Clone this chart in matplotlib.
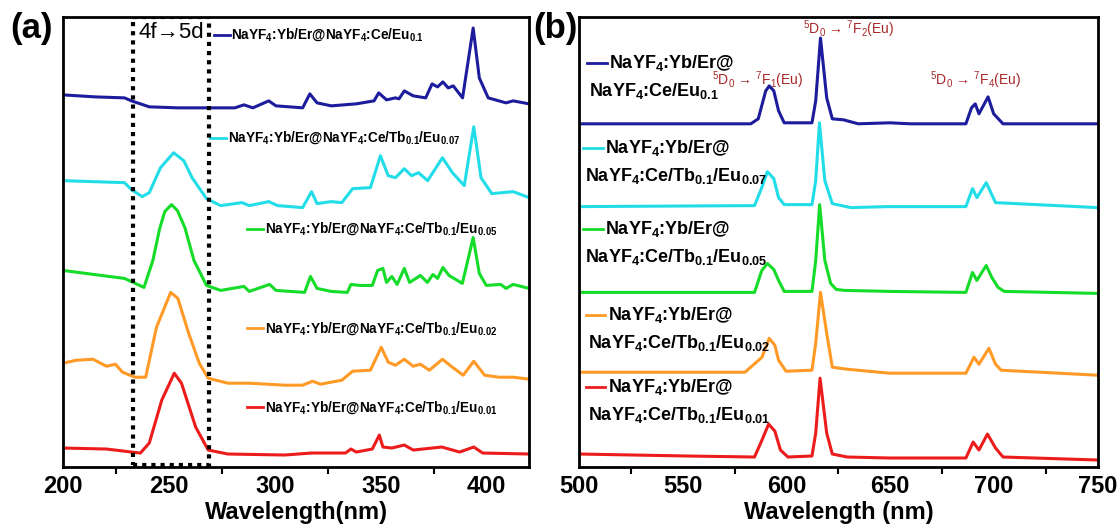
import numpy as np
import matplotlib
matplotlib.use('Agg')
import matplotlib.pyplot as plt
from matplotlib.patches import Rectangle

plt.rcParams['font.family'] = ['Liberation Sans', 'DejaVu Sans']
plt.rcParams['mathtext.fontset'] = 'custom'
plt.rcParams['mathtext.rm'] = 'Liberation Sans'
plt.rcParams['mathtext.bf'] = 'Liberation Sans:bold'
plt.rcParams['mathtext.default'] = 'regular'

colors = ['#1c1c9c', '#22dde8', '#14dc28', '#ff9a26', '#ec1c1c']

# ---- panel (a): excitation spectra, intensity in plot units (offset included)
wl_a_blue = [200, 215, 229, 232.3, 240.7, 254.2, 281.1, 285.4, 289.6, 297.1, 300.5, 313.1, 316.5, 319.9,
             326.6, 338.4, 346.8, 349, 352.7, 356.9, 358.6, 361.1, 365.3, 371.2, 374.2, 376.8, 379.3,
             381.8, 384.2, 388.6, 393.6, 396.5, 400.7, 409.1, 412.5, 420]
I_a_blue = [373, 371, 370, 367, 361, 360, 360, 363, 360, 367, 362, 360, 374, 365,
            362, 364, 367, 375, 368, 370, 369, 377, 372, 370, 384, 381, 386,
            380, 382, 370, 440, 390, 370, 365, 367, 364]

wl_a_cyan = [200, 229, 232.3, 237.4, 240.7, 246, 252.2, 257, 260.9, 267.7, 274.4, 284.5, 287.9, 297.1,
             301.3, 313.1, 317.3, 319.9, 326.6, 331.6, 336.7, 345.1, 349.8, 353.5, 356.9, 361.1,
             364.5, 367.8, 372.1, 379.1, 383.8, 389.4, 393.9, 397.3, 402.4, 407.4, 412.5, 420]
I_a_cyan = [287, 285, 278, 271, 275, 300, 315, 307, 290, 269, 262, 265, 262, 266,
            262, 260, 276, 264, 266, 265, 279, 280, 312, 292, 290, 299,
            292, 295, 287, 310, 295, 282, 341, 290, 274, 275, 276, 270]

wl_a_green = [200, 229, 238.2, 242.4, 245.5, 248, 251.2, 254, 257.5, 261.8, 267.7, 274.4, 285.4, 287.9,
              297.5, 300.5, 314, 316.8, 319.9, 326.6, 334.2, 335.9, 340, 346, 348.5, 351, 352.7,
              355.2, 357.7, 361.1, 363.6, 368.7, 372, 374.6, 376.8, 379.3, 382.2, 388.5, 393.6,
              396.5, 399.8, 406.6, 409.1, 412.5, 420]
I_a_green = [197, 189, 180, 207, 238, 256, 263, 257, 240, 207, 182, 177, 181, 176,
             183, 177, 175, 191, 179, 176, 175, 183, 182, 182, 197, 199, 185,
             191, 183, 199, 185, 192, 185, 193, 189, 200, 192, 184, 230,
             194, 182, 183, 179, 183, 179]

wl_a_orange = [200, 206.2, 214.1, 220.5, 224.7, 228.1, 234, 239, 244.1, 250.8, 254.2, 259.3, 264.3,
               268.5, 277.8, 287.9, 304.7, 313.1, 317.8, 321.5, 331.6, 336.7, 345.1, 350.2, 353.5,
               356.9, 361.1, 365.3, 368.7, 372.9, 379.1, 383.8, 388.9, 393.9, 399, 405.7, 412.5, 420]
I_a_orange = [104, 107, 108, 101, 103, 95, 90, 90, 140, 175, 169, 134, 104,
              89, 84, 84, 82, 82, 86, 83, 87, 96, 97, 120, 105,
              102, 108, 101, 103, 97, 108, 100, 92, 106, 92, 90, 90, 88]

wl_a_red = [200, 220.5, 232.3, 236.5, 240.7, 246.6, 252.5, 255.9, 262.6, 268.5, 277.8, 304.7, 317.3,
            333.3, 335.9, 338.4, 346, 349.3, 351, 355.2, 361.1, 365.3, 378.8, 387.2, 393.9, 398.1, 420]
I_a_red = [19, 18, 15, 14, 24, 67, 94, 84, 40, 17, 13, 12, 14,
           14, 18, 15, 18, 32, 20, 19, 22, 17, 20, 15, 20, 14, 13]

# ---- panel (b): emission spectra
wl_b_blue = [500, 582.8, 586.4, 590, 591.7, 593.9, 596.2, 598.9, 612.3, 614.1, 616.4, 619.4, 622.1,
             627.5, 634.6, 649.8, 659.7, 686.5, 689.2, 691, 692.8, 697.2, 699.9, 701.7, 704.4, 750]
I_b_blue = [344, 344, 349, 377, 382, 377, 357, 345, 345, 367, 430, 370, 349,
            348, 344, 345, 344, 344, 360, 364, 354, 371, 354, 350, 344, 344]

wl_b_cyan = [500, 584.6, 588.1, 590.8, 593.9, 596.2, 598.9, 612.3, 614.1, 615.9, 618.5, 622.1, 631,
             648.9, 686.5, 689.7, 691.8, 696.3, 700.8, 750]
I_b_cyan = [261, 262, 280, 296, 289, 270, 263, 263, 287, 345, 287, 264, 260,
            261, 261, 279, 270, 285, 265, 260]

wl_b_green = [500, 584.6, 588.1, 590.8, 593.9, 596.2, 598.9, 612.3, 614.1, 616, 618.5, 621.3, 624,
              628, 650, 686.5, 689.7, 691.8, 696.3, 699, 702, 705, 750]
I_b_green = [175, 175, 197, 204, 198, 187, 176, 176, 207, 263, 207, 184, 178,
             177, 176, 175, 195, 187, 202, 190, 180, 176, 174]

wl_b_orange = [500, 580, 588.2, 591.7, 594.4, 596.2, 599.8, 612.3, 614.1, 616.4, 619.4, 622.1, 629.3,
               649.8, 686.5, 690.4, 692.8, 697.6, 700.8, 703.5, 750]
I_b_orange = [95, 95, 110, 129, 122, 107, 96, 97, 124, 175, 134, 100, 98,
              94, 94, 110, 103, 119, 103, 97, 92]

wl_b_red = [500, 552.4, 584.6, 588.2, 591.4, 594.4, 597.1, 600.7, 612.3, 614.1, 616.2, 619.4, 622.1,
            629.3, 649.8, 686.5, 690, 692.8, 696.9, 700.8, 704.4, 750]
I_b_red = [13, 11, 10, 27, 43, 36, 17, 10, 11, 34, 89, 34, 13,
           10, 9, 9, 25, 17, 33, 19, 10, 7]

labels_a = [r'NaYF$_4$:Yb/Er@NaYF$_4$:Ce/Eu$_{0.1}$',
            r'NaYF$_4$:Yb/Er@NaYF$_4$:Ce/Tb$_{0.1}$/Eu$_{0.07}$',
            r'NaYF$_4$:Yb/Er@NaYF$_4$:Ce/Tb$_{0.1}$/Eu$_{0.05}$',
            r'NaYF$_4$:Yb/Er@NaYF$_4$:Ce/Tb$_{0.1}$/Eu$_{0.02}$',
            r'NaYF$_4$:Yb/Er@NaYF$_4$:Ce/Tb$_{0.1}$/Eu$_{0.01}$']
labels_b2 = [r'NaYF$_4$:Ce/Eu$_{0.1}$',
             r'NaYF$_4$:Ce/Tb$_{0.1}$/Eu$_{0.07}$',
             r'NaYF$_4$:Ce/Tb$_{0.1}$/Eu$_{0.05}$',
             r'NaYF$_4$:Ce/Tb$_{0.1}$/Eu$_{0.02}$',
             r'NaYF$_4$:Ce/Tb$_{0.1}$/Eu$_{0.01}$']
transitions = [r'$^5$D$_0$ → $^7$F$_1$(Eu)',
               r'$^5$D$_0$ → $^7$F$_2$(Eu)',
               r'$^5$D$_0$ → $^7$F$_4$(Eu)']
box_range = [233, 269]

spec_a = [(wl_a_blue, I_a_blue), (wl_a_cyan, I_a_cyan), (wl_a_green, I_a_green),
          (wl_a_orange, I_a_orange), (wl_a_red, I_a_red)]
spec_b = [(wl_b_blue, I_b_blue), (wl_b_cyan, I_b_cyan), (wl_b_green, I_b_green),
          (wl_b_orange, I_b_orange), (wl_b_red, I_b_red)]

fig = plt.figure(figsize=(11.2, 5.25), dpi=100)
ax1 = fig.add_axes([0.0563, 0.1105, 0.4161, 0.857])
ax2 = fig.add_axes([0.517, 0.1105, 0.463, 0.857])

for ax in (ax1, ax2):
    for s in ax.spines.values():
        s.set_linewidth(2)
    ax.set_yticks([])
    ax.set_ylim(0, 451)
    ax.tick_params(axis='x', which='major', length=0, pad=6, labelsize=17)
    ax.tick_params(axis='x', which='minor', length=5, width=1.5, direction='out')

# panel (a)
for (wl, I), c in zip(spec_a, colors):
    ax1.plot(wl, I, color=c, lw=2.2)
ax1.set_xlim(200, 420)
ax1.set_xticks([200, 250, 300, 350, 400])
ax1.set_xticks([225, 275, 325, 375], minor=True)
for t in ax1.get_xticklabels():
    t.set_fontweight('bold')
ax1.set_xlabel('Wavelength(nm)', fontsize=17, fontweight='bold', labelpad=2)

ax1.add_patch(Rectangle((box_range[0], 2), box_range[1] - box_range[0], 449, fill=False,
                        ec='black', lw=3, ls=(0, (1, 1.2)), zorder=5))
ax1.text((box_range[0] + box_range[1]) / 2, 436, '4f→5d', fontsize=16, ha='center', va='center')

leg_a = [(0.323, 0.960), (0.315, 0.732), (0.395, 0.530), (0.395, 0.308), (0.395, 0.133)]
for (x0, y0), c, lab in zip(leg_a, colors, labels_a):
    ax1.plot([x0, x0 + 0.035], [y0, y0], color=c, lw=2, transform=ax1.transAxes)
    ax1.text(x0 + 0.038, y0, lab, transform=ax1.transAxes, fontsize=9.8, fontweight='bold',
             va='center', ha='left')

# panel (b)
for (wl, I), c in zip(spec_b, colors):
    ax2.plot(wl, I, color=c, lw=2.2)
ax2.set_xlim(500, 750)
ax2.set_xticks([500, 550, 600, 650, 700, 750])
ax2.set_xticks([525, 575, 625, 675, 725], minor=True)
for t in ax2.get_xticklabels():
    t.set_fontweight('bold')
ax2.set_xlabel('Wavelength (nm)', fontsize=17, fontweight='bold', labelpad=2)

leg_b = [(0.016, 0.898, 0.836), (0.008, 0.710, 0.647), (0.008, 0.530, 0.466),
         (0.013, 0.337, 0.275), (0.013, 0.177, 0.115)]
for (x0, y0, y1), c, lab in zip(leg_b, colors, labels_b2):
    ax2.plot([x0, x0 + 0.038], [y0, y0], color=c, lw=2, transform=ax2.transAxes)
    ax2.text(x0 + 0.042, y0, r'NaYF$_4$:Yb/Er@', transform=ax2.transAxes, fontsize=13,
             fontweight='bold', va='center', ha='left')
    ax2.text(x0 + 0.004, y1, lab, transform=ax2.transAxes, fontsize=13,
             fontweight='bold', va='center', ha='left')

tr_pos = [(586, 388), (630, 439), (691, 388)]
for (x, y), t in zip(tr_pos, transitions):
    ax2.text(x, y, t, color='#a82828', fontsize=10, ha='center', va='center')

fig.text(0.028, 0.945, '(a)', fontsize=25, fontweight='bold', ha='center', va='center')
fig.text(0.496, 0.945, '(b)', fontsize=25, fontweight='bold', ha='center', va='center')

fig.savefig('out.png', dpi=100)
